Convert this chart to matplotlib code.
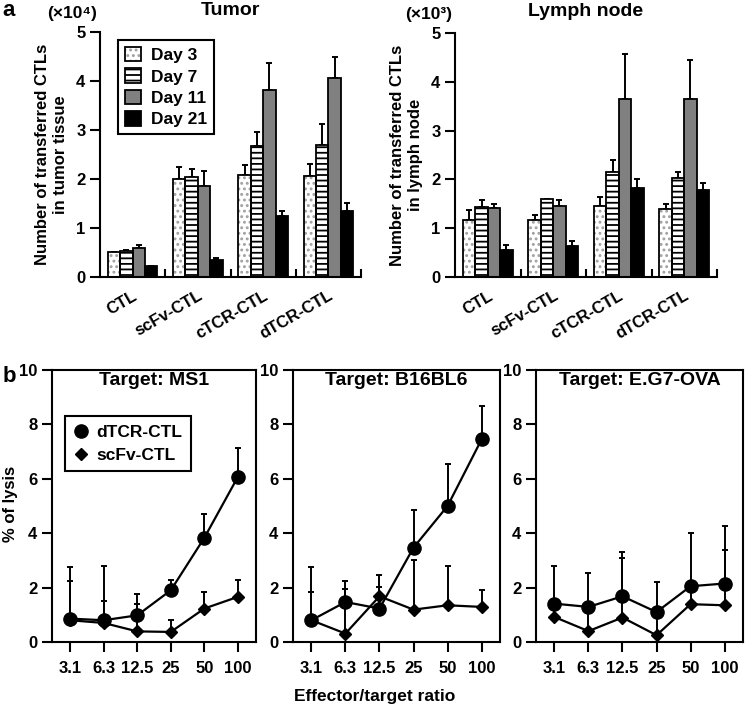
import numpy as np
import matplotlib
matplotlib.use("Agg")
from matplotlib import pyplot as plt
from matplotlib.patches import Patch
from matplotlib.lines import Line2D

plt.rcParams['font.family'] = ['Liberation Sans', 'DejaVu Sans']
plt.rcParams['font.weight'] = 'bold'
plt.rcParams['axes.labelweight'] = 'bold'
plt.rcParams['axes.titleweight'] = 'bold'
plt.rcParams['hatch.linewidth'] = 1.3

# ---- data, panel a (bars) ----
groups = ['CTL', 'scFv-CTL', 'cTCR-CTL', 'dTCR-CTL']
days = ['Day 3', 'Day 7', 'Day 11', 'Day 21']

# tumor, x10^4
tumor_day3 = [0.50, 1.99, 2.09, 2.06]
tumor_day7 = [0.54, 2.04, 2.67, 2.70]
tumor_day11 = [0.60, 1.86, 3.81, 4.06]
tumor_day21 = [0.22, 0.34, 1.24, 1.35]
tumor_err3 = [0.02, 0.25, 0.20, 0.25]
tumor_err7 = [0.02, 0.17, 0.29, 0.42]
tumor_err11 = [0.06, 0.30, 0.56, 0.42]
tumor_err21 = [0.01, 0.05, 0.10, 0.16]

# lymph node, x10^3
lymph_day3 = [1.16, 1.16, 1.46, 1.40]
lymph_day7 = [1.44, 1.60, 2.16, 2.02]
lymph_day11 = [1.42, 1.45, 3.64, 3.64]
lymph_day21 = [0.56, 0.64, 1.83, 1.78]
lymph_err3 = [0.22, 0.12, 0.18, 0.10]
lymph_err7 = [0.14, 0.00, 0.24, 0.14]
lymph_err11 = [0.08, 0.12, 0.93, 0.81]
lymph_err21 = [0.10, 0.10, 0.17, 0.15]

# ---- data, panel b (lysis) ----
ratios = ['3.1', '6.3', '12.5', '25', '50', '100']

ms1_dtcr = [0.86, 0.80, 0.98, 1.90, 3.83, 6.07]
ms1_dtcr_err = [1.88, 2.00, 0.77, 0.39, 0.87, 1.05]
ms1_scfv = [0.80, 0.70, 0.39, 0.37, 1.23, 1.66]
ms1_scfv_err = [1.45, 0.80, 1.02, 0.45, 0.62, 0.61]

b16_dtcr = [0.80, 1.47, 1.23, 3.47, 5.00, 7.45]
b16_dtcr_err = [1.94, 0.77, 1.22, 1.38, 1.54, 1.22]
b16_scfv = [0.80, 0.31, 1.68, 1.19, 1.35, 1.29]
b16_scfv_err = [1.04, 1.65, 0.34, 1.84, 1.44, 0.64]

eg7_dtcr = [1.41, 1.29, 1.68, 1.10, 2.05, 2.15]
eg7_dtcr_err = [1.38, 1.24, 1.63, 1.10, 1.96, 2.11]
eg7_scfv = [0.92, 0.40, 0.90, 0.25, 1.39, 1.35]
eg7_scfv_err = [0.45, 0.85, 2.19, 0.80, 0.60, 2.03]

fills = ['white', 'white', '#808080', 'black']
hatches = ['...', '---', None, None]
hatch_colors = ['#a0a0a0', 'black', '#808080', 'black']


def px(left, top, right, bottom):
    # pixel box -> figure fraction rect
    W, H = 746.0, 708.0
    return [left / W, 1 - bottom / H, (right - left) / W, (bottom - top) / H]


def draw_bars(ax, values, errors, unit, ylabel, title):
    x = np.arange(len(groups))
    width = 0.19
    for i in range(len(days)):
        pos = x + (i - 1.5) * width
        ax.bar(pos, values[i], width, color=fills[i], hatch=hatches[i],
               edgecolor=hatch_colors[i], linewidth=0, zorder=2)
        ax.bar(pos, values[i], width, fill=False, edgecolor='black',
               linewidth=1.3, zorder=3)
        ax.errorbar(pos, values[i], yerr=[np.zeros(len(x)), errors[i]],
                    fmt='none', ecolor='black', elinewidth=1.4, capsize=2.5,
                    capthick=1.4, zorder=1)
    ax.set_xlim(-0.5, 3.5)
    ax.set_ylim(0, 5)
    ax.set_yticks([0, 1, 2, 3, 4, 5])
    ax.spines['top'].set_visible(False)
    ax.spines['right'].set_visible(False)
    for s in ['left', 'bottom']:
        ax.spines[s].set_linewidth(1.5)
    ax.set_xticks(x)
    ax.set_xticklabels(groups, rotation=30, ha='right', rotation_mode='anchor',
                       fontweight='bold')
    ax.set_xticks([0.5, 1.5, 2.5, 3.5], minor=True)
    ax.tick_params(axis='x', which='major', length=0, pad=8, labelsize=12)
    ax.tick_params(axis='x', which='minor', direction='in', length=6, width=1.5)
    ax.tick_params(axis='y', direction='out', length=7, width=1.5, labelsize=12)
    for lab in ax.get_yticklabels():
        lab.set_fontweight('bold')
    ax.set_ylabel(ylabel, fontsize=12, fontweight='bold', labelpad=6)
    ax.set_title(title, fontsize=14, fontweight='bold', pad=12)
    ax.text(-0.01, 1.075, unit, transform=ax.transAxes, ha='right', va='center',
            fontsize=12.5, fontweight='bold')


def draw_lysis(ax, dtcr, dtcr_err, scfv, scfv_err, title):
    x = np.arange(len(ratios))
    for y, err, mk, ms in [(dtcr, dtcr_err, 'o', 9.5), (scfv, scfv_err, 'D', 6.5)]:
        ax.errorbar(x, y, yerr=[np.zeros(len(x)), err], fmt='none', ecolor='black',
                    elinewidth=1.4, capsize=2.5, capthick=1.4, zorder=1)
        ax.plot(x, y, color='black', linewidth=1.6, marker=mk, markersize=ms,
                zorder=3)
    ax.set_xlim(-0.54, 5.54)
    ax.set_ylim(0, 10)
    ax.set_yticks([0, 2, 4, 6, 8, 10])
    ax.set_xticks(x)
    ax.set_xticklabels(ratios, fontweight='bold')
    for lab in ax.get_yticklabels():
        lab.set_fontweight('bold')
    for s in ax.spines.values():
        s.set_linewidth(1.5)
    ax.tick_params(direction='out', length=7, width=1.5, labelsize=12)
    ax.tick_params(axis='x', pad=7)
    ax.text(0.5, 0.963, title, transform=ax.transAxes, ha='center', va='center',
            fontsize=14, fontweight='bold')


fig = plt.figure(figsize=(7.46, 7.08), dpi=100)

ax_t = fig.add_axes(px(100, 32, 361, 277))
draw_bars(ax_t, [tumor_day3, tumor_day7, tumor_day11, tumor_day21],
          [tumor_err3, tumor_err7, tumor_err11, tumor_err21], '(×10⁴)',
          'Number of transferred CTLs\nin tumor tissue', 'Tumor')
handles = []
for i in range(len(days)):
    handles.append((Patch(facecolor=fills[i], hatch=hatches[i],
                          edgecolor=hatch_colors[i], linewidth=0),
                    Patch(fill=False, edgecolor='black', linewidth=1.3)))
leg = ax_t.legend(handles, days, loc='upper left', bbox_to_anchor=(0.069, 0.967),
                  borderaxespad=0, prop={'size': 12.5, 'weight': 'bold'},
                  handlelength=0.9, handleheight=0.9,
                  handletextpad=0.6, labelspacing=0.3, borderpad=0.4,
                  fancybox=False, edgecolor='black', framealpha=1)
leg.get_frame().set_linewidth(1.5)

ax_l = fig.add_axes(px(455, 33, 717, 277))
draw_bars(ax_l, [lymph_day3, lymph_day7, lymph_day11, lymph_day21],
          [lymph_err3, lymph_err7, lymph_err11, lymph_err21], '(×10³)',
          'Number of transferred CTLs\nin lymph node', 'Lymph node')

ax1 = fig.add_axes(px(52, 370, 256, 642))
draw_lysis(ax1, ms1_dtcr, ms1_dtcr_err, ms1_scfv, ms1_scfv_err, 'Target: MS1')
leg2 = ax1.legend([Line2D([], [], color='black', marker='o', markersize=9.5, linestyle='none'),
                   Line2D([], [], color='black', marker='D', markersize=6.5, linestyle='none')],
                  ['dTCR-CTL', 'scFv-CTL'], loc='upper left', bbox_to_anchor=(0.064, 0.831),
                  borderaxespad=0, prop={'size': 12.5, 'weight': 'bold'},
                  handlelength=0.8, handletextpad=0.5,
                  labelspacing=0.45, borderpad=0.5, fancybox=False, edgecolor='black',
                  framealpha=1)
leg2.get_frame().set_linewidth(1.5)

ax2 = fig.add_axes(px(293, 370, 500, 642))
draw_lysis(ax2, b16_dtcr, b16_dtcr_err, b16_scfv, b16_scfv_err, 'Target: B16BL6')

ax3 = fig.add_axes(px(536, 370, 743, 642))
draw_lysis(ax3, eg7_dtcr, eg7_dtcr_err, eg7_scfv, eg7_scfv_err, 'Target: E.G7-OVA')

fig.text(11 / 746, 1 - 504 / 708, '% of lysis', rotation=90, ha='center', va='center',
         fontsize=12, fontweight='bold')
fig.text(375 / 746, 1 - 697 / 708, 'Effector/target ratio', ha='center', va='center',
         fontsize=12.5, fontweight='bold')
fig.text(0.003, 1.0, 'a', ha='left', va='top', fontsize=16, fontweight='bold')
fig.text(0.003, 1 - 366 / 708, 'b', ha='left', va='top', fontsize=16, fontweight='bold')

fig.savefig('out.png', dpi=100)
